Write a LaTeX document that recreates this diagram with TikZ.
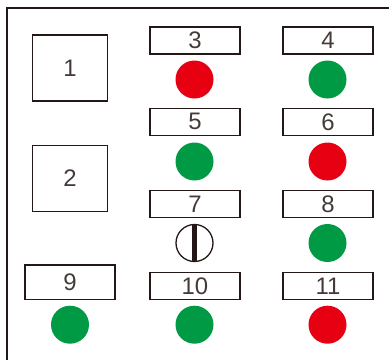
\documentclass[tikz,border=0pt]{standalone}
\usepackage{fontspec}
\setmainfont{Liberation Sans}
\definecolor{ink}{HTML}{231815}
\definecolor{lred}{HTML}{E60012}
\definecolor{lgreen}{HTML}{009944}
\begin{document}
\begin{tikzpicture}[x=1bp,y=-1bp,
  lbl/.style={draw=ink,line width=1.5bp,minimum width=90bp,minimum height=27bp,inner sep=0pt,font=\fontsize{24}{24}\selectfont,text=ink!85},
  sq/.style={draw=ink,line width=1.5bp,minimum width=75bp,minimum height=66bp,inner sep=0pt,font=\fontsize{24}{24}\selectfont,text=ink!85},
  lamp/.style={circle,minimum size=38bp,inner sep=0pt},
  redlamp/.style={lamp,fill=lred},
  greenlamp/.style={lamp,fill=lgreen}]
\useasboundingbox (0,0) rectangle (389,360);
\draw[ink,line width=1.8bp] (7,360) -- (7,8) -- (389,8);
\node[sq] (b1) at (70,68) {1};
\node[sq] (b2) at (70,178.5) {2};
\node[lbl] (l3) at (195,40.5) {3};
\node[lbl] (l4) at (328,40.5) {4};
\node[redlamp] (c3) at (194.5,79.5) {};
\node[greenlamp] (c4) at (327.5,79.5) {};
\node[lbl] (l5) at (195,121.8) {5};
\node[lbl] (l6) at (328,121.8) {6};
\node[greenlamp] (c5) at (194.5,161.5) {};
\node[redlamp] (c6) at (327.5,161.5) {};
\node[lbl] (l7) at (195,204) {7};
\node[lbl] (l8) at (328,204) {8};
\node[lamp,draw=ink,line width=1.3bp,minimum size=37bp] (c7) at (194.5,243) {};
\fill[ink] ([xshift=-2.6bp]c7.north) rectangle ([xshift=2.6bp]c7.south);
\node[greenlamp] (c8) at (327.5,243) {};
\node[lbl,minimum height=34.5bp] (l9) at (70,282) {9};
\node[lbl] (l10) at (195,285.8) {10};
\node[lbl] (l11) at (328,285.8) {11};
\node[greenlamp] (c9) at (70,324.7) {};
\node[greenlamp] (c10) at (194.5,324.7) {};
\node[redlamp] (c11) at (327.5,324.7) {};
\end{tikzpicture}
\end{document}
